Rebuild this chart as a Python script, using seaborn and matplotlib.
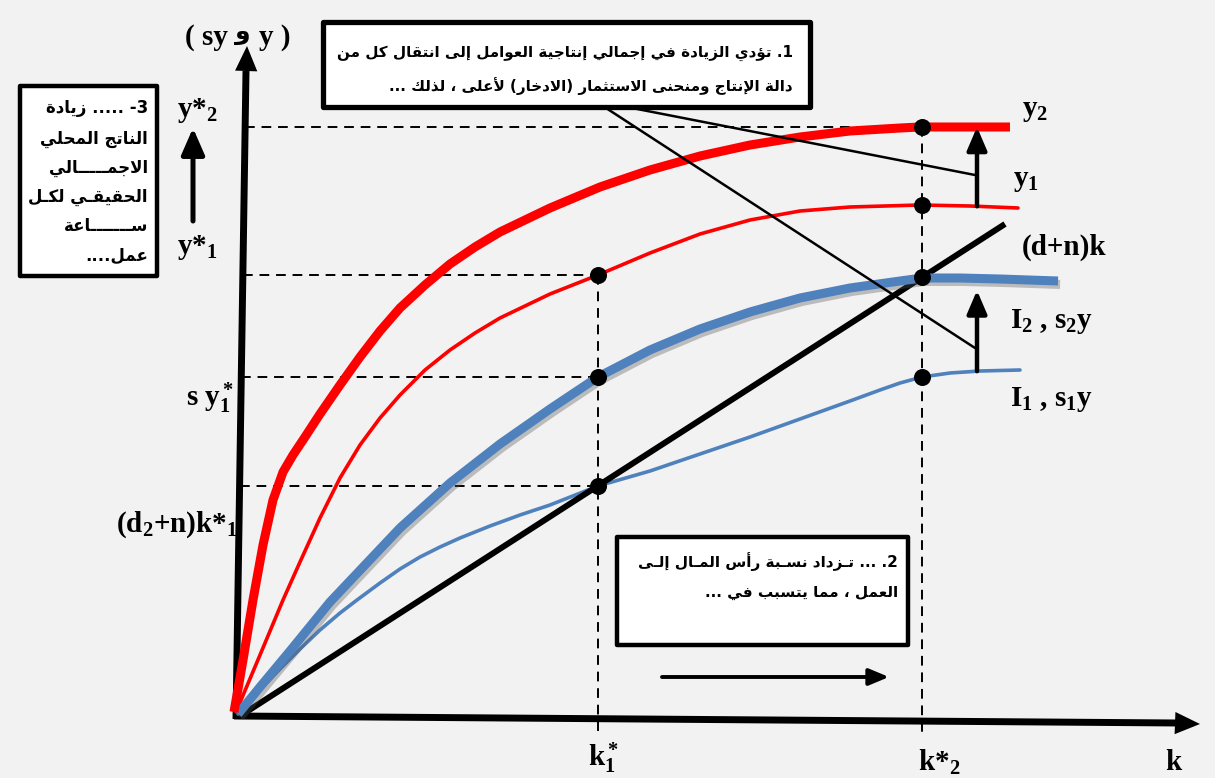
import re
import numpy as np
import matplotlib
matplotlib.use("Agg")
import matplotlib.pyplot as plt
import matplotlib.patheffects as pe
from matplotlib.patches import Rectangle
import seaborn as sns

# ---------------- data (k on the horizontal axis, y / sy on the vertical) ----------------
y2_k = [-4, 5, 15, 25, 35, 45, 55, 67, 82, 102, 122, 142, 162, 187, 212, 237, 262,
        312, 362, 412, 462, 512, 562, 612, 662, 682, 772]
y2_v = [4, 56, 116, 171, 216, 244, 261, 279, 302, 331, 359, 385, 408, 431, 452, 469, 484,
        508, 529, 546, 560, 571, 579, 585, 588, 589, 589]

y1_k = [-2, 22, 45, 62, 82, 102, 122, 142, 162, 187, 212, 237, 262, 312, 360, 412, 462,
        512, 562, 612, 682, 732, 780]
y1_v = [4, 61, 116, 154, 198, 238, 271, 298, 321, 346, 366, 383, 398, 422, 441, 463, 482,
        496, 505, 509, 511, 510, 508]

i2_k = [0, 22, 52, 92, 127, 162, 212, 262, 312, 360, 412, 462, 512, 562, 612, 662, 684,
        722, 762, 820]
i2_v = [2, 29, 65, 114, 151, 188, 233, 272, 307, 339, 366, 387, 404, 418, 428, 435, 438,
        438, 437, 435]

i1_k = [0, 22, 42, 62, 82, 102, 119, 142, 162, 182, 202, 222, 252, 282, 312, 360, 412,
        462, 512, 562, 612, 642, 662, 684, 712, 742, 782]
i1_v = [2, 26, 47, 67, 86, 103, 116, 133, 147, 159, 169, 178, 190, 201, 211, 230, 245,
        262, 279, 297, 315, 326, 333, 339, 343, 345, 346]

dn_k = [2, 767]            # (d+n)k break-even line
dn_v = [0, 492]

k_star = [360, 684]        # k*1, k*2

# ---------------- text ----------------
box1_lines = ["1. تؤدي الزيادة في إجمالي إنتاجية العوامل إلى انتقال كل من",
              "دالة الإنتاج ومنحنى الاستثمار (الادخار) لأعلى ، لذلك ..."]
box2_lines = ["2. ... تـزداد نسـبة رأس المـال إلـى",
              "العمل ، مما يتسبب في ..."]
box3_lines = ["3- ..... زيادة", "الناتج المحلي", "الاجمـــــالي",
              "الحقيقـي لكـل", "ســـــــاعة", "عمل...."]

# ---------------- Arabic shaping for display ----------------
_RIGHT = {'\u0622': 0xFE81, '\u0623': 0xFE83, '\u0624': 0xFE85, '\u0625': 0xFE87,
          '\u0627': 0xFE8D, '\u0629': 0xFE93, '\u062F': 0xFEA9, '\u0630': 0xFEAB,
          '\u0631': 0xFEAD, '\u0632': 0xFEAF, '\u0648': 0xFEED, '\u0649': 0xFEEF}
_DUAL = {'\u0626': 0xFE89, '\u0628': 0xFE8F, '\u062A': 0xFE95, '\u062B': 0xFE99,
         '\u062C': 0xFE9D, '\u062D': 0xFEA1, '\u062E': 0xFEA5, '\u0633': 0xFEB1,
         '\u0634': 0xFEB5, '\u0635': 0xFEB9, '\u0636': 0xFEBD, '\u0637': 0xFEC1,
         '\u0638': 0xFEC5, '\u0639': 0xFEC9, '\u063A': 0xFECD, '\u0641': 0xFED1,
         '\u0642': 0xFED5, '\u0643': 0xFED9, '\u0644': 0xFEDD, '\u0645': 0xFEE1,
         '\u0646': 0xFEE5, '\u0647': 0xFEE9, '\u064A': 0xFEF1}
_LAM_ALEF = {'\u0622': 0xFEF5, '\u0623': 0xFEF7, '\u0625': 0xFEF9, '\u0627': 0xFEFB}
_TATWEEL = '\u0640'


def shape(text):
    units = []
    i = 0
    while i < len(text):
        c = text[i]
        if c == '\u0644' and i + 1 < len(text) and text[i + 1] in _LAM_ALEF:
            units.append(('R', _LAM_ALEF[text[i + 1]]))
            i += 2
            continue
        if c in _DUAL:
            units.append(('D', _DUAL[c]))
        elif c in _RIGHT:
            units.append(('R', _RIGHT[c]))
        elif c == _TATWEEL:
            units.append(('T', c))
        else:
            units.append(('U', c))
        i += 1
    out = []
    for j, (kind, val) in enumerate(units):
        if kind == 'U':
            out.append(val)
            continue
        if kind == 'T':
            out.append(_TATWEEL)
            continue
        prev_join = j > 0 and units[j - 1][0] in 'DT'
        next_join = kind == 'D' and j + 1 < len(units) and units[j + 1][0] in 'DRT'
        if kind == 'R':
            out.append(chr(val + (1 if prev_join else 0)))
        else:
            if prev_join and next_join:
                off = 3
            elif prev_join:
                off = 1
            elif next_join:
                off = 2
            else:
                off = 0
            out.append(chr(val + off))
    return ''.join(out)


def visual(text):
    tokens = re.findall(r'[0-9A-Za-z]+|.', shape(text))
    mirror = {'(': ')', ')': '('}
    return ''.join(mirror.get(t, t) for t in reversed(tokens))


# ---------------- figure ----------------
sns.set_theme(style="white")
plt.rcParams.update({
    "mathtext.fontset": "custom",
    "mathtext.rm": "Liberation Serif:bold",
    "mathtext.it": "Liberation Serif:bold",
    "mathtext.bf": "Liberation Serif:bold",
})
BG = "#f2f2f2"
RED = "#ff0000"
BLUE = "#4f81bd"

fig = plt.figure(figsize=(12.15, 7.78), dpi=100, facecolor=BG)
ax = fig.add_axes([0, 0, 1, 1])
ax.set_facecolor(BG)
X0, Y0 = 238, 716
ax.set_xlim(-X0, 1215 - X0)
ax.set_ylim(Y0 - 778, Y0)
ax.axis("off")


def P(px, py):
    return px - X0, Y0 - py


def arrow(p0, p1, lw, hl, hw):
    ax.annotate("", xy=p1, xytext=p0,
                arrowprops=dict(arrowstyle=f"-|>,head_length={hl},head_width={hw}",
                                lw=lw, color="black", shrinkA=0, shrinkB=0,
                                mutation_scale=1))


# axes of the diagram (slightly hand-drawn tilt)
yax_k, yax_v = [-2, 8], [-3, 645]
xax_k, xax_v = [-4, 940], [0, -7]
ax.plot(yax_k, yax_v, color="black", lw=5, solid_capstyle="butt")
ax.plot(xax_k, xax_v, color="black", lw=5, solid_capstyle="butt")
arrow((yax_k[1], yax_v[1] - 5), (9, 670), 0, 18, 8)
arrow((xax_k[1] - 5, xax_v[1]), (962, -8), 0, 18, 8)


def yaxis_at(v):
    return np.interp(v, yax_v, yax_k)


# interpolated key points
y1_at = np.interp(k_star, y1_k, y1_v)
y2_at = np.interp(k_star, y2_k, y2_v)
i1_at = np.interp(k_star, i1_k, i1_v)
i2_at = np.interp(k_star, i2_k, i2_v)
dn_at = np.interp(k_star, dn_k, dn_v)

# dashed guides
dash = dict(color="black", lw=1.4, ls=(0, (5, 3.5)))
for v, k in [(y2_at[1], k_star[1]), (y1_at[0], k_star[0]),
             (i2_at[0], k_star[0]), (dn_at[0], k_star[0])]:
    ax.plot([yaxis_at(v), k], [v, v], **dash)
ax.plot([k_star[0], k_star[0]], [y1_at[0], -18], **dash)
ax.plot([k_star[1], k_star[1]], [y2_at[1], -18], **dash)

# curves
sns.lineplot(x=i1_k, y=i1_v, ax=ax, color=BLUE, lw=2.6, sort=False, estimator=None)
sns.lineplot(x=y1_k, y=y1_v, ax=ax, color=RED, lw=2.6, sort=False, estimator=None)
sns.lineplot(x=dn_k, y=dn_v, ax=ax, color="black", lw=4.3, sort=False, estimator=None,
             solid_capstyle="butt")
sns.lineplot(x=i2_k, y=i2_v, ax=ax, color=BLUE, lw=6.5, sort=False, estimator=None,
             solid_capstyle="butt",
             path_effects=[pe.SimpleLineShadow(offset=(1.5, -2.5), shadow_color="#555555",
                                               alpha=0.35), pe.Normal()])
sns.lineplot(x=y2_k, y=y2_v, ax=ax, color=RED, lw=6.5, sort=False, estimator=None,
             solid_capstyle="butt")

# equilibrium / reference dots
dot_k = [k_star[0]] * 3 + [k_star[1]] * 4
dot_v = [y1_at[0], i2_at[0], dn_at[0], y2_at[1], y1_at[1], dn_at[1], i1_at[1]]
sns.scatterplot(x=dot_k, y=dot_v, ax=ax, color="black", s=150, edgecolor="black",
                linewidth=0, zorder=6)

# shift arrows between curves
ks = 739
arrow((ks, np.interp(ks, y1_k, y1_v)), (ks, np.interp(ks, y2_k, y2_v)), 3.2, 14, 6)
arrow((ks, np.interp(ks, i1_k, i1_v)), (ks, np.interp(ks, i2_k, i2_v) - 12), 3.2, 14, 6)
arrow(P(193, 221), P(193, 128), 3.6, 16, 7)
arrow(P(662, 677), P(889, 677), 2.8, 12, 5)

# leader lines from the first note
ax.plot(*zip(P(632, 108), P(975, 175)), color="black", lw=1.8)
ax.plot(*zip(P(606, 108), P(975, 348)), color="black", lw=1.8)

# note boxes
def box(x0, y0, x1, y1, lw):
    (a, b), (c, d) = P(x0, y1), P(x1, y0)
    ax.add_patch(Rectangle((a, b), c - a, d - b, facecolor="white", edgecolor="black",
                           lw=lw, zorder=8, joinstyle="round"))

box(323, 22, 810, 107, 3.8)
box(617, 537, 908, 645, 3.2)
box(20, 86, 157, 276, 3.2)

ar = dict(family="DejaVu Sans", weight="bold", color="black", zorder=9,
          ha="right", va="center")
for line, py in zip(box1_lines, [53, 86]):
    ax.text(*P(793, py), visual(line), fontsize=10.9, **ar)
for line, py in zip(box2_lines, [562, 592]):
    ax.text(*P(898, py), visual(line), fontsize=11.0, **ar)
for line, py in zip(box3_lines, [108, 139, 168, 197, 226, 256]):
    ax.text(*P(148, py), visual(line), fontsize=12.0, **ar)

# serif labels
lab = dict(family="Liberation Serif", weight="bold", color="black",
           fontsize=21, va="center")
ax.text(*P(228, 37), "( sy", ha="right", **lab)
ax.text(*P(243, 33), "و", ha="center", va="center", family="DejaVu Sans",
        weight="bold", fontsize=18, color="black")
ax.text(*P(259, 37), "y )", ha="left", **lab)
ax.text(*P(177, 110), r"y*$_2$", ha="left", **lab)
ax.text(*P(177, 248), r"y*$_1$", ha="left", **lab)
ax.text(*P(234, 398), r"s y$_1^*$", ha="right", **lab)
ax.text(*P(238, 525), r"(d$_2$+n)k*$_1$", ha="right", **lab)
ax.text(*P(588, 758), r"k$_1^*$", ha="left", **lab)
ax.text(*P(918, 762), r"k*$_2$", ha="left", **lab)
ax.text(*P(1165, 762), "k", ha="left", **lab)
ax.text(*P(1022, 110), r"y$_2$", ha="left", **lab)
ax.text(*P(1013, 180), r"y$_1$", ha="left", **lab)
ax.text(*P(1022, 247), "(d+n)k", ha="left", **lab)
ax.text(*P(1010, 321), r"I$_2$ , s$_2$y", ha="left", **lab)
ax.text(*P(1010, 399), r"I$_1$ , s$_1$y", ha="left", **lab)

fig.savefig("out.png", dpi=100, facecolor=BG)
